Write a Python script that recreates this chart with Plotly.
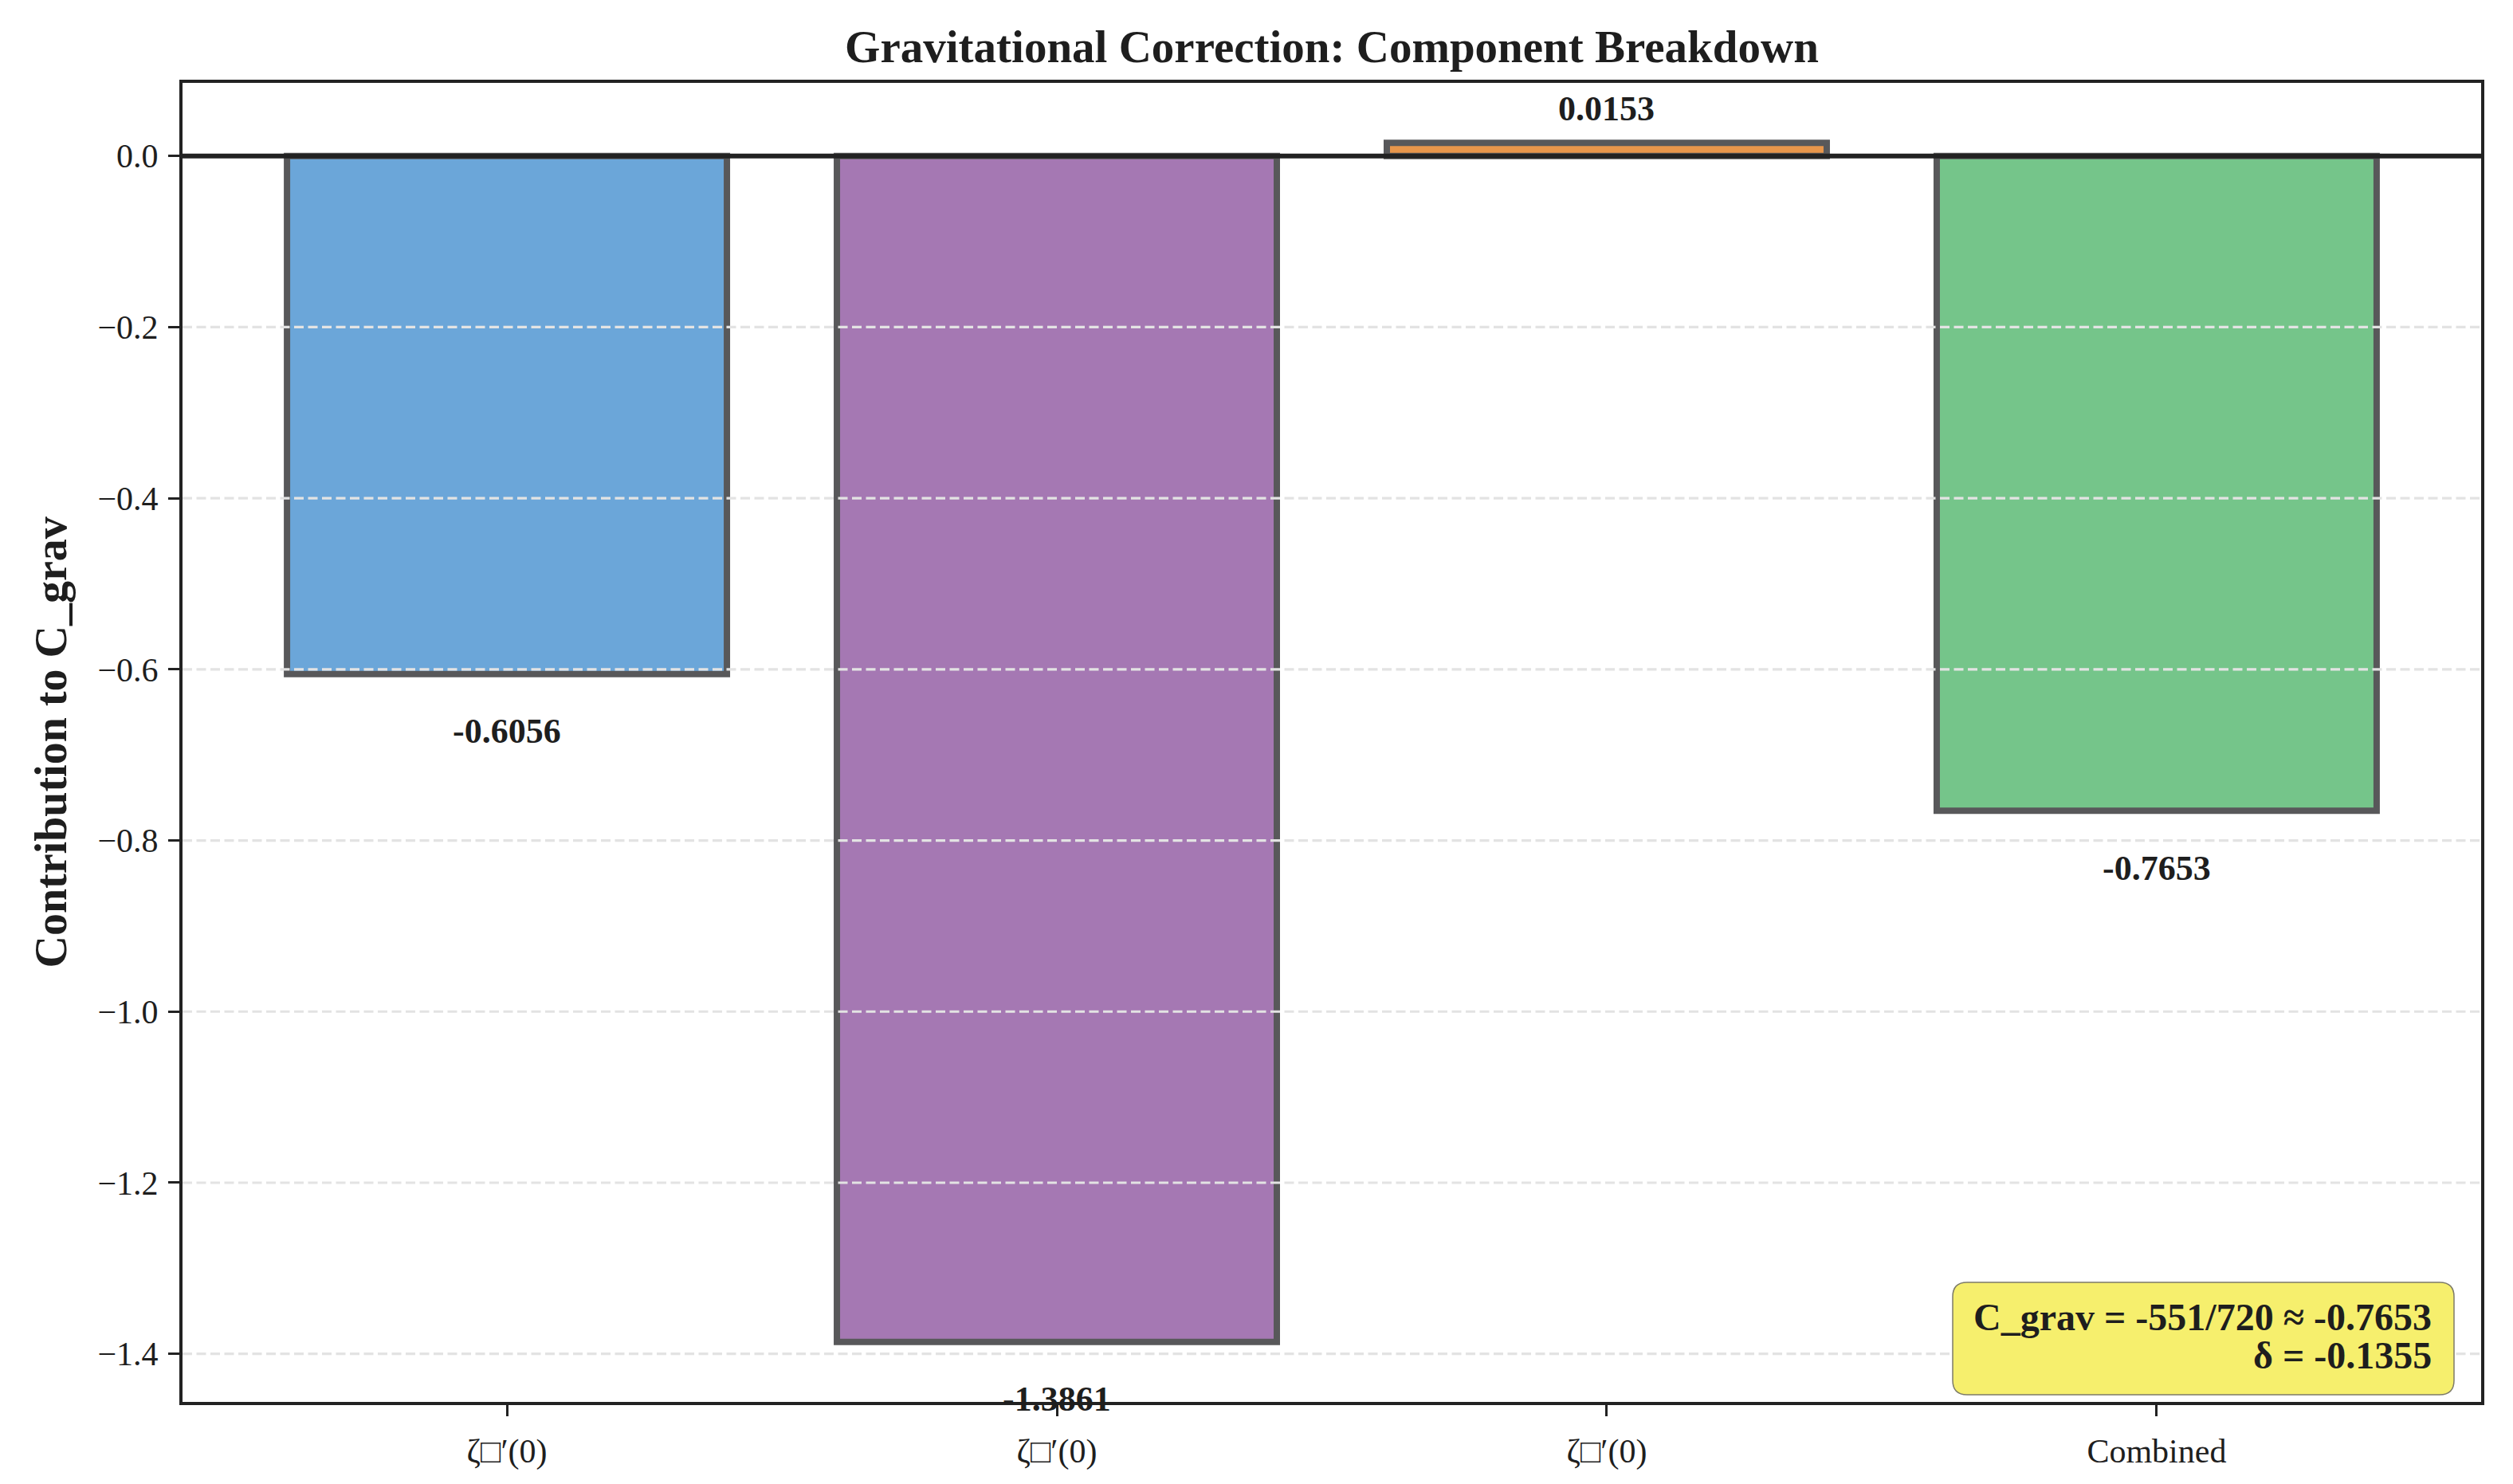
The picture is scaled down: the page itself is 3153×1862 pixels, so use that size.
import plotly.graph_objects as go

# ---------------- data ----------------
categories = ["ζ□′(0)", "ζ□′(0)", "ζ□′(0)", "Combined"]
values = [-0.6056, -1.3861, 0.0153, -0.7653]
bar_colors = ["#6ba6d9", "#a578b3", "#e8964b", "#75c58a"]
y_ticks = [0.0, -0.2, -0.4, -0.6, -0.8, -1.0, -1.2, -1.4]
box_lines = ["C_grav = -551/720 ≈ -0.7653", "δ = -0.1355"]
title_text = "Gravitational Correction: Component Breakdown"
y_title = "Contribution to C_grav"

# ---------------- layout constants ----------------
W, H = 3153, 1862
L, R, T, B = 229, 40, 104, 103
PW, PH = W - L - R, H - T - B
FONT = "Liberation Serif, Times New Roman, serif"
TXT = "#1e1e1e"
AX = "#222222"

positions = list(range(len(categories)))
bar_w = 0.8
xpad = 0.05 * ((len(categories) - 1) + bar_w)
x_range = [-bar_w / 2 - xpad, len(categories) - 1 + bar_w / 2 + xpad]
lo, hi = min(min(values), 0), max(max(values), 0)
span = hi - lo
y_range = [lo - 0.05 * span, hi + 0.05 * span]

fig = go.Figure()
fig.add_trace(go.Bar(
    x=positions, y=values, width=bar_w,
    marker=dict(color=bar_colors, line=dict(color="#58585a", width=8)),
    hoverinfo="skip", showlegend=False,
))

# value labels
for xp, v in zip(positions, values):
    fig.add_annotation(
        x=xp, y=v, xref="x", yref="y", text=f"<b>{v:.4f}</b>",
        showarrow=False, yanchor="middle", xanchor="center",
        yshift=43 if v > 0 else -72,
        font=dict(family=FONT, size=44, color=TXT),
    )

shapes = []
# grid lines (drawn over bars, as in reference)
for t in y_ticks:
    if t == 0:
        continue
    shapes.append(dict(type="line", xref="paper", yref="y", x0=0, x1=1, y0=t, y1=t,
                       line=dict(color="#e3e3e3", width=3.2, dash="12px,5.5px"), layer="above"))
# zero line
shapes.append(dict(type="line", xref="paper", yref="y", x0=0, x1=1, y0=0, y1=0,
                   line=dict(color=AX, width=6), layer="above"))

# rounded info box
bx0, bx1 = (2450 - L) / PW, (3079 - L) / PW
by0, by1 = (H - B - 1750) / PH, (H - B - 1609) / PH
rx, ry = 18 / PW, 18 / PH
path = (f"M {bx0+rx},{by0} L {bx1-rx},{by0} Q {bx1},{by0} {bx1},{by0+ry} "
        f"L {bx1},{by1-ry} Q {bx1},{by1} {bx1-rx},{by1} L {bx0+rx},{by1} "
        f"Q {bx0},{by1} {bx0},{by1-ry} L {bx0},{by0+ry} Q {bx0},{by0} {bx0+rx},{by0} Z")
shapes.append(dict(type="path", xref="paper", yref="paper", path=path,
                   fillcolor="#f6ef6d", line=dict(color="#7d7b68", width=1.5), layer="above"))

# info box text (two right-aligned lines)
text_x = (3053 - L) / PW
for i, line in enumerate(box_lines):
    ypix = 1652 + 48 * i
    fig.add_annotation(
        x=text_x, y=(H - B - ypix) / PH, xref="paper", yref="paper",
        text=f"<b>{line}</b>", showarrow=False, xanchor="right", yanchor="middle",
        font=dict(family=FONT, size=48, color=TXT),
    )

# y-axis title
fig.add_annotation(
    x=(63 - L) / PW, y=0.5, xref="paper", yref="paper",
    text=f"<b>{y_title}</b>", textangle=-90, showarrow=False,
    xanchor="center", yanchor="middle",
    font=dict(family=FONT, size=56, color=TXT),
)

fig.update_layout(
    width=W, height=H,
    margin=dict(l=L, r=R, t=T, b=B, pad=0),
    paper_bgcolor="white", plot_bgcolor="white",
    shapes=shapes,
    showlegend=False,
    title=dict(text=f"<b>{title_text}</b>", x=0.5, xref="paper", xanchor="center",
               y=1 - 58 / H, yref="container", yanchor="middle",
               font=dict(family=FONT, size=57, color=TXT)),
    font=dict(family=FONT, color=TXT),
)

fig.update_xaxes(
    range=x_range, tickmode="array", tickvals=positions, ticktext=categories,
    ticks="outside", ticklen=14, tickwidth=3, tickcolor=AX,
    tickfont=dict(family=FONT, size=42, color=TXT),
    showgrid=False, zeroline=False,
    showline=True, mirror=True, linewidth=4, linecolor=AX,
    ticklabelstandoff=8,
)
fig.update_yaxes(
    range=y_range, tickmode="array", tickvals=y_ticks, tickformat=".1f",
    ticks="outside", ticklen=14, tickwidth=3, tickcolor=AX,
    tickfont=dict(family=FONT, size=42, color=TXT),
    showgrid=False, zeroline=False,
    showline=True, mirror=True, linewidth=4, linecolor=AX,
    ticklabelstandoff=4,
)

fig.write_html(
    "out.html",
    config={"displayModeBar": False},
    post_script="document.body.style.margin='0px';document.body.style.overflow='hidden';",
)
